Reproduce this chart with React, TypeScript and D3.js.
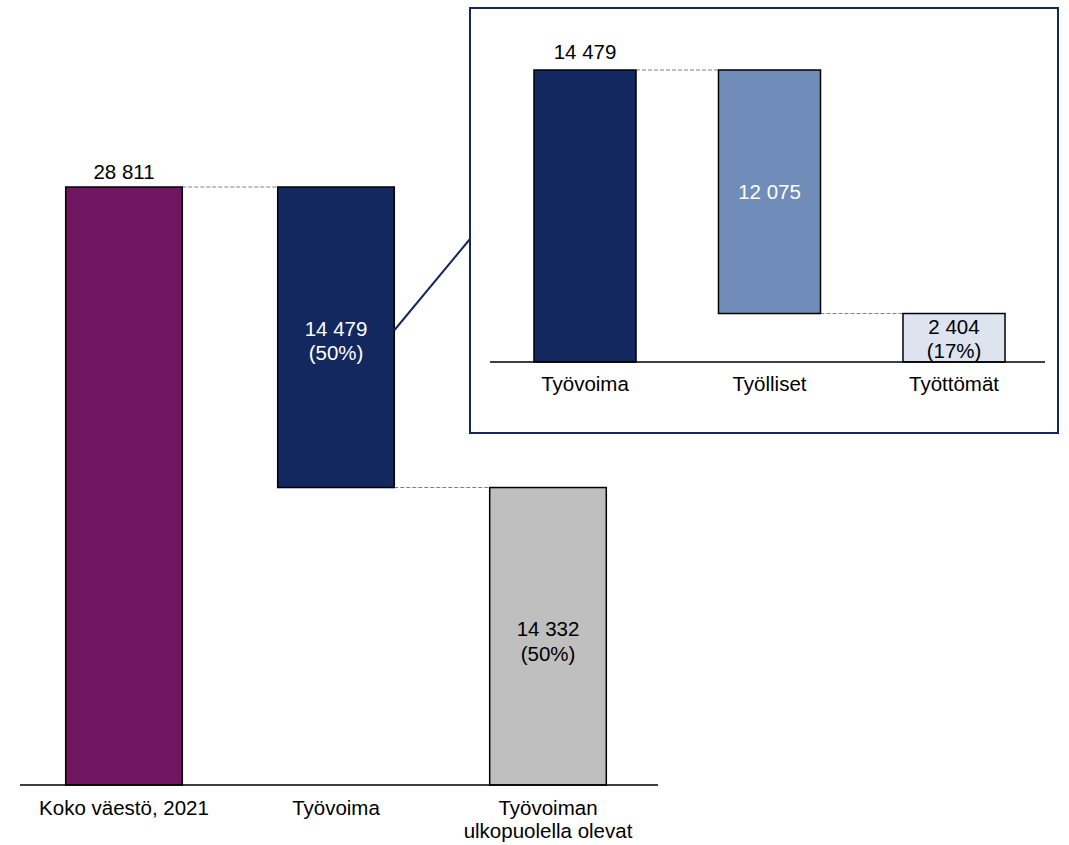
import React from "react";
import * as d3 from "d3";

const mainCategories = ["Koko väestö, 2021", "Työvoima", "Työvoiman ulkopuolella olevat"];
const mainLabelLines = [["Koko väestö, 2021"], ["Työvoima"], ["Työvoiman", "ulkopuolella olevat"]];
const mainValues = [28811, 14479, 14332];
const mainShares = ["", "(50%)", "(50%)"];

const insetCategories = ["Työvoima", "Työlliset", "Työttömät"];
const insetValues = [14479, 12075, 2404];
const insetShares = ["", "", "(17%)"];

const fmt = (v: number) => d3.format(",")(v).replace(/,/g, " ");

export default function App() {
  const W = 1069, H = 845;
  const font = "'Liberation Sans', Arial, sans-serif";
  const fs = 20.5;

  const x = d3.scaleBand<string>().domain(mainCategories).range([18, 654]).paddingInner(0.45).paddingOuter(0.225);
  const y = d3.scaleLinear().domain([0, mainValues[0]]).range([785, 187]);
  const mainSegs = [
    { c: mainCategories[0], lo: 0, hi: mainValues[0], fill: "#711660" },
    { c: mainCategories[1], lo: mainValues[0] - mainValues[1], hi: mainValues[0], fill: "#13285e" },
    { c: mainCategories[2], lo: 0, hi: mainValues[2], fill: "#bfbfbf" },
  ];

  const xi = d3.scaleBand<string>().domain(insetCategories).range([492.75, 1046.25]).paddingInner(0.447).paddingOuter(0.2235);
  const yi = d3.scaleLinear().domain([0, insetValues[0]]).range([362, 70]);
  const insetSegs = [
    { c: insetCategories[0], lo: 0, hi: insetValues[0], fill: "#13285e" },
    { c: insetCategories[1], lo: insetValues[0] - insetValues[1], hi: insetValues[0], fill: "#6f8db8" },
    { c: insetCategories[2], lo: 0, hi: insetValues[2], fill: "#dde3ef" },
  ];

  const bw = x.bandwidth();
  const bwi = xi.bandwidth();
  const tv = mainSegs[1];
  const tvMid = (y(tv.lo) + y(tv.hi)) / 2;
  const offs = [[0, 0], [-1, 23], [0, 25]];

  return (
    <svg width={W} height={H} style={{ position: "absolute", left: 0, top: 0, fontFamily: font }}>
      <rect width={W} height={H} fill="#fff" />
      <line x1={x(mainCategories[0])! + bw} x2={x(mainCategories[1])!} y1={y(mainValues[0])} y2={y(mainValues[0])} stroke="#808080" strokeDasharray="4,2" />
      <line x1={x(mainCategories[1])! + bw} x2={x(mainCategories[2])!} y1={y(tv.lo)} y2={y(tv.lo)} stroke="#808080" strokeDasharray="4,2" />
      {mainSegs.map((s, i) => (
        <rect key={i} x={x(s.c)} y={y(s.hi)} width={bw} height={y(s.lo) - y(s.hi)} fill={s.fill} stroke="#000" strokeWidth={1.5} />
      ))}
      <line x1={20} x2={658} y1={y(0)} y2={y(0)} stroke="#000" strokeWidth={1.5} />
      <text x={x(mainCategories[0])! + bw / 2} y={y(mainValues[0]) - 8} textAnchor="middle" fontSize={fs}>{fmt(mainValues[0])}</text>
      {[1, 2].map((i) => {
        const s = mainSegs[i];
        const mid = (y(s.lo) + y(s.hi)) / 2;
        return (
          <text key={i} textAnchor="middle" fontSize={fs} fill={i === 1 ? "#fff" : "#000"}>
            <tspan x={x(s.c)! + bw / 2} y={mid + offs[i][0]}>{fmt(mainValues[i])}</tspan>
            <tspan x={x(s.c)! + bw / 2} y={mid + offs[i][1]}>{mainShares[i]}</tspan>
          </text>
        );
      })}
      {mainLabelLines.map((lines, i) => (
        <text key={i} textAnchor="middle" fontSize={fs}>
          {lines.map((l, j) => (
            <tspan key={j} x={x(mainCategories[i])! + bw / 2} y={815 + j * 23}>{l}</tspan>
          ))}
        </text>
      ))}
      <line x1={x(mainCategories[1])! + bw} y1={tvMid - 7} x2={470} y2={239} stroke="#13285e" strokeWidth={2} />
      <rect x={470} y={8} width={588} height={425} fill="#fff" stroke="#13285e" strokeWidth={2} />
      <line x1={xi(insetCategories[0])! + bwi} x2={xi(insetCategories[1])!} y1={yi(insetValues[0])} y2={yi(insetValues[0])} stroke="#808080" strokeDasharray="4,2" />
      <line x1={xi(insetCategories[1])! + bwi} x2={xi(insetCategories[2])!} y1={yi(insetSegs[1].lo)} y2={yi(insetSegs[1].lo)} stroke="#808080" strokeDasharray="4,2" />
      {insetSegs.map((s, i) => (
        <rect key={i} x={xi(s.c)} y={yi(s.hi)} width={bwi} height={yi(s.lo) - yi(s.hi)} fill={s.fill} stroke="#000" strokeWidth={1.5} />
      ))}
      <line x1={490} x2={1045} y1={yi(0)} y2={yi(0)} stroke="#000" strokeWidth={1.5} />
      <text x={xi(insetCategories[0])! + bwi / 2} y={yi(insetValues[0]) - 11} textAnchor="middle" fontSize={fs}>{fmt(insetValues[0])}</text>
      <text x={xi(insetCategories[1])! + bwi / 2} y={(yi(insetSegs[1].lo) + yi(insetSegs[1].hi)) / 2 + 7} textAnchor="middle" fontSize={fs} fill="#fff">{fmt(insetValues[1])}</text>
      {(() => {
        const s = insetSegs[2];
        const cx = xi(s.c)! + bwi / 2;
        const mid = (yi(s.lo) + yi(s.hi)) / 2;
        return (
          <text textAnchor="middle" fontSize={fs}>
            <tspan x={cx} y={mid - 4}>{fmt(insetValues[2])}</tspan>
            <tspan x={cx} y={mid + 20}>{insetShares[2]}</tspan>
          </text>
        );
      })()}
      {insetCategories.map((c, i) => (
        <text key={i} x={xi(c)! + bwi / 2} y={391} textAnchor="middle" fontSize={fs}>{c}</text>
      ))}
    </svg>
  );
}
